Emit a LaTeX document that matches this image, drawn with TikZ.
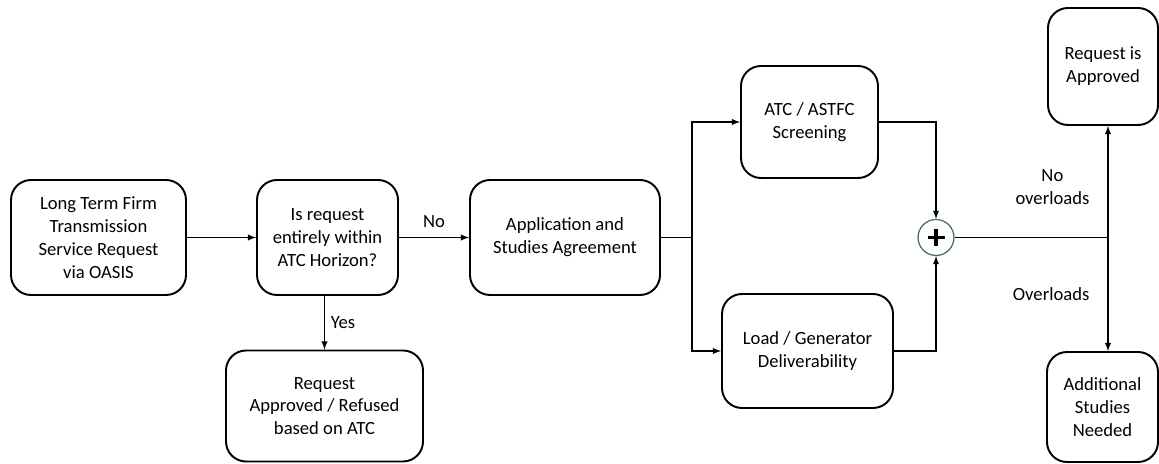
\documentclass[tikz,border=0pt]{standalone}
\usepackage{fontspec}
\setmainfont{Carlito}
\usetikzlibrary{arrows,positioning,calc}

\definecolor{ringgreen}{rgb}{0.29,0.42,0.36}

\begin{document}
\begin{tikzpicture}[>=latex,
	box/.style={draw,line width=1.1pt,rounded corners=0.4cm,align=center,
		font=\fontsize{10.6}{13}\selectfont},
	lbl/.style={font=\fontsize{10.6}{13}\selectfont,align=center},
	conn/.style={line width=0.6pt}]

\useasboundingbox (0,0) rectangle (23.18,-9.28);

\node[box,minimum width=3.5cm,minimum height=2.3cm] (request) at (1.97,-4.75)
	{Long Term Firm\\Transmission\\Service Request\\via OASIS};
\node[box,minimum width=2.82cm,minimum height=2.3cm] (horizon) at (6.55,-4.75)
	{Is request\\entirely within\\ATC Horizon?};
\node[box,minimum width=3.8cm,minimum height=2.3cm] (agreement) at (11.3,-4.75)
	{Application and\\Studies Agreement};
\node[box,minimum width=3.94cm,minimum height=2.22cm] (refused) at (6.49,-8.12)
	{Request\\Approved / Refused\\based on ATC};
\node[box,minimum width=2.74cm,minimum height=2.24cm] (screening) at (16.19,-2.44)
	{ATC / ASTFC\\Screening};
\node[box,minimum width=3.42cm,minimum height=2.28cm] (deliver) at (16.15,-7.02)
	{Load / Generator\\Deliverability};
\node[draw=ringgreen,line width=0.7pt,circle,minimum size=0.72cm,inner sep=0pt] (plus) at (18.72,-4.75) {};
\draw[line width=2pt] ($(plus)+(-0.17,0)$) -- ++(0.34,0);
\draw[line width=2pt] ($(plus)+(0,-0.17)$) -- ++(0,0.34);
\node[box,minimum width=2.2cm,minimum height=2.34cm] (approved) at (22.06,-1.33)
	{Request is\\Approved};
\node[box,minimum width=2.22cm,minimum height=2.2cm] (studies) at (22.05,-8.14)
	{Additional\\Studies\\Needed};

\coordinate (split) at (13.84,-4.75);
\coordinate (junc) at (22.16,-4.75);

\draw[conn,->] (request) -- (horizon);
\draw[conn,->] (horizon) -- node[lbl,above=2pt] {No} (agreement);
\draw[conn,->] (horizon.south -| refused) -- node[lbl,right] {Yes} (refused);
\draw[conn] (agreement) -- (split);
\draw[conn,->] (split) |- (screening.west);
\draw[conn,->] (split) |- (deliver.west);
\draw[conn,->] (screening.east) -| (plus.north);
\draw[conn,->] (deliver.east) -| (plus.south);
\draw[conn] (plus) -- (junc);
\draw[conn,->] (junc) -- node[lbl,left=7pt,pos=0.45] {No\\overloads} (junc |- approved.south);
\draw[conn,->] (junc) -- node[lbl,left=7pt] {Overloads} (junc |- studies.north);

\end{tikzpicture}
\end{document}
